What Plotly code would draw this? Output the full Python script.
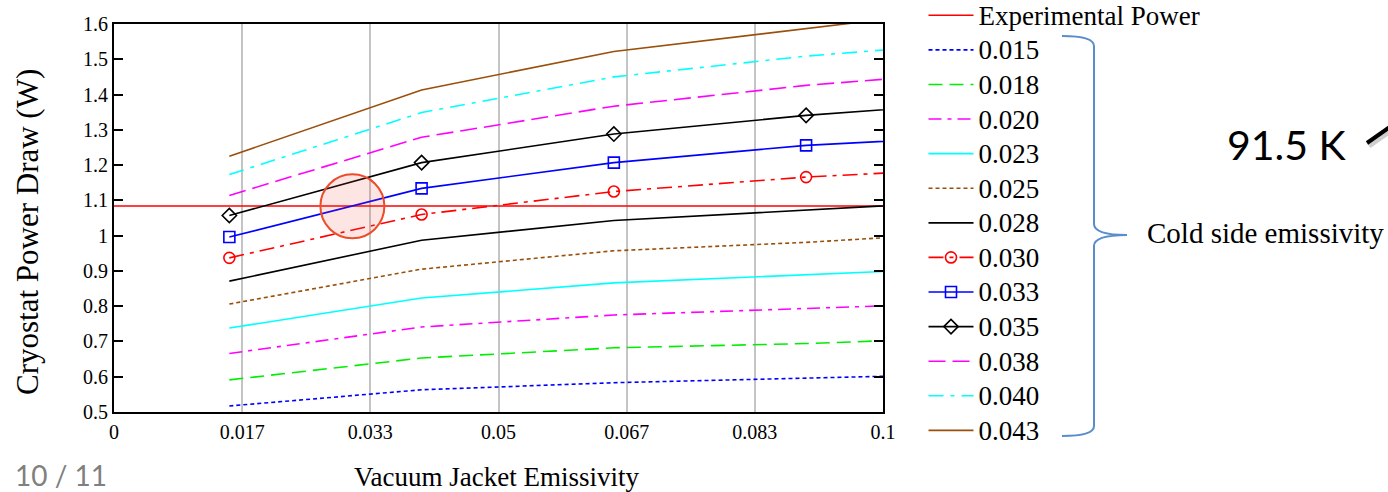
import plotly.graph_objects as go

# ---- data ----
vj_emissivity = [0.015, 0.04, 0.065, 0.09, 0.115]
experimental_power = 1.084

p015 = [0.517, 0.563, 0.583, 0.594, 0.609]
p018 = [0.591, 0.653, 0.682, 0.694, 0.714]
p020 = [0.666, 0.741, 0.775, 0.792, 0.812]
p023 = [0.738, 0.823, 0.866, 0.887, 0.912]
p025 = [0.806, 0.905, 0.957, 0.981, 1.013]
p028 = [0.871, 0.987, 1.043, 1.074, 1.102]
p030 = [0.937, 1.060, 1.125, 1.166, 1.194]
p033 = [0.996, 1.134, 1.207, 1.256, 1.284]
p035 = [1.057, 1.207, 1.288, 1.341, 1.381]
p038 = [1.114, 1.279, 1.367, 1.426, 1.469]
p040 = [1.173, 1.349, 1.450, 1.509, 1.552]
p043 = [1.225, 1.413, 1.522, 1.587, 1.652]

cold_labels = ["0.015", "0.018", "0.020", "0.023", "0.025", "0.028",
               "0.030", "0.033", "0.035", "0.038", "0.040", "0.043"]
series = [p015, p018, p020, p023, p025, p028, p030, p033, p035, p038, p040, p043]

x_tickvals = [0, 1/60, 2/60, 3/60, 4/60, 5/60, 0.1]
x_ticktext = ["0", "0.017", "0.033", "0.05", "0.067", "0.083", "0.1"]
y_tickvals = [0.5, 0.6, 0.7, 0.8, 0.9, 1.0, 1.1, 1.2, 1.3, 1.4, 1.5, 1.6]
y_ticktext = ["0.5", "0.6", "0.7", "0.8", "0.9", "1", "1.1", "1.2", "1.3", "1.4", "1.5", "1.6"]

# ---- styles ----
BROWN = "#9a4f0a"
styles = [
    dict(color="#0000ff", dash="4px,3px", marker=None),
    dict(color="#00ee00", dash="14px,7px", marker=None),
    dict(color="#ff00ff", dash="13px,6px,4px,6px", marker=None),
    dict(color="#00ffff", dash="solid", marker=None),
    dict(color=BROWN, dash="4px,3px", marker=None),
    dict(color="#000000", dash="solid", marker=None),
    dict(color="#ff0000", dash="15px,6px,4px,6px", marker="circle-open"),
    dict(color="#0000ff", dash="solid", marker="square-open"),
    dict(color="#000000", dash="solid", marker="diamond-open"),
    dict(color="#ff00ff", dash="17px,7px", marker=None),
    dict(color="#00ffff", dash="15px,7px,4px,7px", marker=None),
    dict(color=BROWN, dash="solid", marker=None),
]

SERIF = "Liberation Serif"
LEG_TXT = '<span style="font-size:27px">{}</span>'

fig = go.Figure()

fig.add_trace(go.Scatter(
    x=[0, 0.1], y=[experimental_power, experimental_power], mode="lines",
    name=LEG_TXT.format("Experimental Power"),
    line=dict(color="#ff0000", width=1.6)))

for lab, vals, st in zip(cold_labels, series, styles):
    mode = "lines+markers" if st["marker"] else "lines"
    fig.add_trace(go.Scatter(
        x=vj_emissivity, y=vals, mode=mode, name=LEG_TXT.format(lab),
        line=dict(color=st["color"], width=1.6, dash=st["dash"]),
        marker=dict(symbol=st["marker"] or "circle", size=11,
                    color=st["color"], line=dict(width=1.6, color=st["color"])),
    ))

# plot-area geometry helpers (pixel -> paper)
L, R, T, B = 114, 883, 24, 412
W, H = R - L, B - T


def px(x):
    return (x - L) / W


def py(y):
    return (B - y) / H


fig.update_layout(
    width=1388, height=492,
    margin=dict(l=L, r=1388 - R, t=T, b=492 - B, autoexpand=False),
    paper_bgcolor="white", plot_bgcolor="white",
    font=dict(family=SERIF, size=20, color="black"),
    showlegend=True,
    legend=dict(
        x=px(923.5), y=py(-7), xanchor="left", yanchor="top",
        font=dict(family=SERIF, size=24.3, color="black"),
        bgcolor="rgba(0,0,0,0)", borderwidth=0, itemwidth=45,
        tracegroupgap=0, maxheight=492,
    ),
    xaxis=dict(
        range=[0, 0.1], tickvals=x_tickvals, ticktext=x_ticktext,
        showgrid=True, gridcolor="#c4c4c4", gridwidth=1.5,
        showline=True, linecolor="black", linewidth=2, mirror=True,
        ticks="", zeroline=False, ticklabelstandoff=1,
        tickfont=dict(family=SERIF, size=20, color="black"),
    ),
    yaxis=dict(
        range=[0.5, 1.6], tickvals=y_tickvals, ticktext=y_ticktext,
        showgrid=False, showline=True, linecolor="black", linewidth=2,
        mirror="ticks", ticks="inside", ticklen=9, tickwidth=1.5, tickcolor="black",
        zeroline=False,
        tickfont=dict(family=SERIF, size=20, color="black"),
    ),
)

annotations = [
    dict(text="Cryostat Power Draw (W)", x=px(27), y=py(232), textangle=-90,
         font=dict(family=SERIF, size=31, color="black")),
    dict(text="Vacuum Jacket Emissivity", x=px(496), y=py(477),
         font=dict(family=SERIF, size=27, color="black")),
    dict(text="Cold side emissivity", x=px(1265), y=py(233),
         font=dict(family=SERIF, size=29, color="black")),
    dict(text="91.5 K", x=px(1287), y=py(144),
         font=dict(family="Lato", size=41, color="black")),
    dict(text="10 / 11", x=px(61), y=py(475),
         font=dict(family="Lato", size=28, color="#808080")),
]
for a in annotations:
    a.update(xref="paper", yref="paper", showarrow=False,
             xanchor="center", yanchor="middle")
fig.update_layout(annotations=annotations)

# highlight circle around the crossing
fig.add_shape(type="circle", xref="x", yref="y", xsizemode="pixel", ysizemode="pixel",
              xanchor=0.031, yanchor=1.083, x0=-32, x1=32, y0=-32, y1=32,
              line=dict(color="#ee4b2b", width=2), fillcolor="rgba(235,70,50,0.14)",
              layer="above")

# curly brace
bx0, bx1, bxm = 1062, 1094, 1127
path = (f"M {px(bx0)},{py(36)} Q {px(bx1)},{py(36)} {px(bx1)},{py(46)} "
        f"L {px(bx1)},{py(224)} Q {px(bx1)},{py(235)} {px(bxm)},{py(235)} "
        f"Q {px(bx1)},{py(235)} {px(bx1)},{py(246)} "
        f"L {px(bx1)},{py(426)} Q {px(bx1)},{py(436)} {px(bx0)},{py(436)}")
fig.add_shape(type="path", xref="paper", yref="paper", path=path,
              line=dict(color="#5b8dcc", width=2))

# arrow stub near 91.5 K
fig.add_shape(type="line", xref="paper", yref="paper",
              x0=px(1369), y0=py(146), x1=px(1396), y1=py(127),
              line=dict(color="#cfcfcf", width=5))
fig.add_shape(type="line", xref="paper", yref="paper",
              x0=px(1367), y0=py(143), x1=px(1394), y1=py(124),
              line=dict(color="black", width=4))

fig.write_html("out.html")
